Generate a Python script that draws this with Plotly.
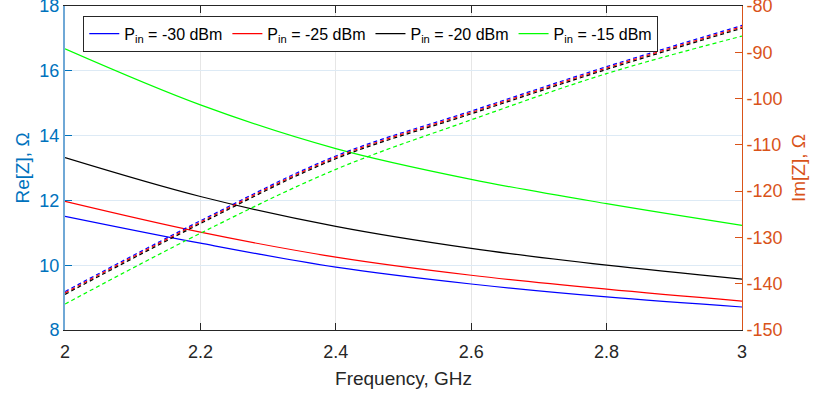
import plotly.graph_objects as go

freq = [2.0, 2.2, 2.4, 2.6, 2.8, 3.0]

labels = ["P<sub>in</sub> = -30 dBm", "P<sub>in</sub> = -25 dBm",
          "P<sub>in</sub> = -20 dBm", "P<sub>in</sub> = -15 dBm"]
colors = ["#0000FF", "#FF0000", "#000000", "#00FF00"]

re_m30 = [11.51, 10.68, 9.94, 9.42, 9.02, 8.71]
re_m25 = [11.97, 11.02, 10.25, 9.69, 9.26, 8.89]
re_m20 = [13.32, 12.12, 11.20, 10.52, 10.00, 9.57]
re_m15 = [16.68, 14.95, 13.60, 12.65, 11.90, 11.23]

im_m30 = [-141.7, -126.4, -112.4, -102.7, -93.1, -84.2]
im_m25 = [-142.0, -126.7, -112.7, -103.0, -93.4, -84.5]
im_m20 = [-142.3, -127.0, -113.0, -103.3, -93.7, -84.8]
im_m15 = [-144.4, -129.1, -115.3, -104.6, -94.6, -86.5]

x_ticks = [2, 2.2, 2.4, 2.6, 2.8, 3]
re_ticks = [8, 10, 12, 14, 16, 18]
im_ticks = [-150, -140, -130, -120, -110, -100, -90, -80]

re_all = [re_m30, re_m25, re_m20, re_m15]
im_all = [im_m30, im_m25, im_m20, im_m15]

fig = go.Figure()
for lab, col, re in zip(labels, colors, re_all):
    fig.add_trace(go.Scatter(x=freq, y=re, mode="lines", name=lab,
                             line=dict(color=col, width=1.2, shape="spline"),
                             yaxis="y"))
for lab, col, im in zip(labels, colors, im_all):
    fig.add_trace(go.Scatter(x=freq, y=im, mode="lines", name=lab, showlegend=False,
                             line=dict(color=col, width=1.2, dash="4px,3px", shape="spline"),
                             yaxis="y2"))

blue = "#0072BD"
orange = "#D95319"
dark = "#262626"
font = "Liberation Sans, Arial, sans-serif"

fig.update_layout(
    width=819, height=400,
    margin=dict(l=65, r=77, t=6, b=70),
    paper_bgcolor="white", plot_bgcolor="white",
    font=dict(family=font, size=18, color=dark),
    showlegend=True,
    legend=dict(orientation="h", x=0.027, y=0.97, xanchor="left", yanchor="top",
                bgcolor="white", bordercolor=dark, borderwidth=1,
                font=dict(size=16, color="#000000"),
                tracegroupgap=0, itemwidth=30),
    xaxis=dict(range=[2, 3], tickmode="array", tickvals=x_ticks,
               ticktext=[f"{v:g}" for v in x_ticks],
               showgrid=True, gridcolor="#E6E6E6", gridwidth=1,
               showline=True, linecolor=dark, linewidth=1, mirror="ticks",
               ticks="inside", ticklen=7, tickcolor=dark,
               ticklabelstandoff=5,
               tickfont=dict(size=18, color=dark), automargin=False,
               title=dict(text="Frequency, GHz", font=dict(size=19, color=dark), standoff=11),
               zeroline=False),
    yaxis=dict(range=[8, 18], tickmode="array", tickvals=re_ticks,
               ticktext=[str(v) for v in re_ticks],
               showgrid=True, gridcolor="#DDEAF5", gridwidth=1,
               showline=True, linecolor="#6FA8D6", linewidth=2,
               ticks="inside", ticklen=7, tickcolor=blue,
               tickfont=dict(size=18, color=blue), automargin=False,
               ticklabeloverflow="allow",
               title=dict(text="Re[Z], Ω", font=dict(size=19, color=blue), standoff=5),
               zeroline=False),
    yaxis2=dict(range=[-150, -80], tickmode="array", tickvals=im_ticks,
                ticktext=[str(v) for v in im_ticks],
                overlaying="y", side="right",
                showgrid=False,
                showline=True, linecolor=orange, linewidth=1,
                ticks="inside", ticklen=7, tickcolor=orange,
                tickfont=dict(size=18, color=orange), automargin=False,
                ticklabeloverflow="allow",
                title=dict(text="Im[Z], Ω", font=dict(size=19, color=orange), standoff=10),
                zeroline=False),
)

fig.write_html("out.html", config={"displayModeBar": False},
               post_script="document.body.style.margin='0';document.body.style.overflow='hidden';")
